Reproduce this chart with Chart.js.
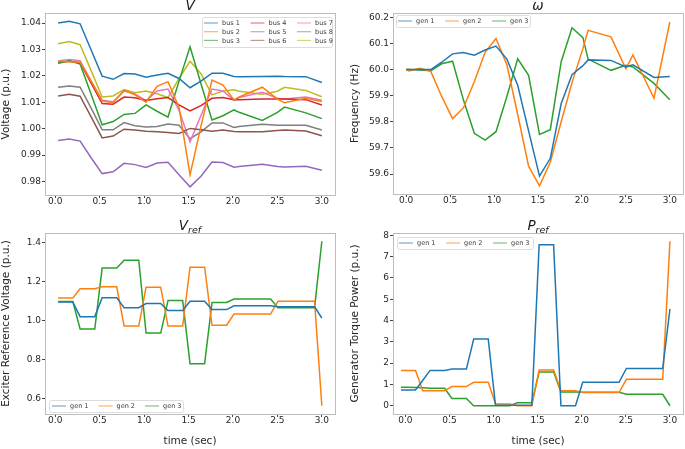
<!DOCTYPE html>
<html>
<head>
<meta charset="utf-8">
<script src="https://cdn.jsdelivr.net/npm/chart.js@4.4.1/dist/chart.umd.min.js"></script>
<style>
  body { margin: 0; background: #fff; }
  #wrap { position: relative; width: 685px; height: 449px; overflow: hidden; }
  canvas { position: absolute; }
</style>
</head>
<body>
<div id="wrap">
  <canvas id="cV"    style="left:0;top:0"       width="342" height="218"></canvas>
  <canvas id="cW"    style="left:342px;top:0"   width="343" height="218"></canvas>
  <canvas id="cVref" style="left:0;top:218px"   width="342" height="231"></canvas>
  <canvas id="cPref" style="left:342px;top:218px" width="343" height="231"></canvas>
</div>
<script>
// ---- data ----
const tTop = [0.033, 0.157, 0.280, 0.404, 0.528, 0.651, 0.775, 0.898, 1.022, 1.146, 1.269, 1.393,
  1.517, 1.640, 1.764, 1.887, 2.011, 2.07, 2.33, 2.50, 2.58, 2.82, 3.00];
const tOmega = [0.0, 0.033, 0.157, 0.280, 0.404, 0.528, 0.651, 0.775, 0.898, 1.022, 1.146, 1.269, 1.393,
  1.517, 1.640, 1.764, 1.887, 2.011, 2.07, 2.33, 2.50, 2.58, 2.82, 3.00];
const tBot = [0.033, 0.115, 0.198, 0.280, 0.363, 0.445, 0.528, 0.610, 0.692, 0.775, 0.857, 0.940,
  1.022, 1.104, 1.187, 1.269, 1.352, 1.434, 1.517, 1.599, 1.681, 1.764, 1.846, 1.929,
  2.011, 2.093, 2.176, 2.258, 2.341, 2.423, 2.506, 2.588, 2.670, 2.753, 2.835, 2.918, 3.000];
// the torque panel starts one sample earlier
const tPref = [-0.049, 0.033, 0.115, 0.198, 0.280, 0.363, 0.445, 0.528, 0.610, 0.692, 0.775, 0.857, 0.940,
  1.022, 1.104, 1.187, 1.269, 1.352, 1.434, 1.517, 1.599, 1.681, 1.764, 1.846, 1.929,
  2.011, 2.093, 2.176, 2.258, 2.341, 2.423, 2.506, 2.588, 2.670, 2.753, 2.835, 2.918, 3.000];

const busNames = ["bus 1", "bus 2", "bus 3", "bus 4", "bus 5", "bus 6", "bus 7", "bus 8", "bus 9"];
const genNames = ["gen 1", "gen 2", "gen 3"];

const vBus1 = [1.0400, 1.0407, 1.0397, 1.0298, 1.0199, 1.0187, 1.0209, 1.0207, 1.0195, 1.0203, 1.0210, 1.0190, 1.0155, 1.0180, 1.0210, 1.0210, 1.0198, 1.0197, 1.0198, 1.0199, 1.0198, 1.0197, 1.0175];
const vBus2 = [1.0255, 1.0253, 1.0252, 1.0180, 1.0105, 1.0098, 1.0145, 1.0128, 1.0100, 1.0160, 1.0178, 1.0080, 0.9825, 1.0010, 1.0184, 1.0165, 1.0109, 1.0120, 1.0157, 1.0112, 1.0098, 1.0115, 1.0103];
const vBus3 = [1.0248, 1.0257, 1.0245, 1.0130, 1.0015, 1.0027, 1.0054, 1.0058, 1.0090, 1.0066, 1.0044, 1.0180, 1.0310, 1.0170, 1.0033, 1.0049, 1.0071, 1.0062, 1.0031, 1.0062, 1.0082, 1.0060, 1.0038];
const vBus4 = [1.0250, 1.0255, 1.0250, 1.0172, 1.0095, 1.0093, 1.0120, 1.0117, 1.0107, 1.0113, 1.0118, 1.0090, 1.0067, 1.0087, 1.0115, 1.0118, 1.0110, 1.0110, 1.0112, 1.0112, 1.0112, 1.0110, 1.0090];
const vBus5 = [0.9955, 0.9961, 0.9953, 0.9890, 0.9830, 0.9837, 0.9869, 0.9864, 0.9853, 0.9870, 0.9873, 0.9826, 0.9780, 0.9820, 0.9874, 0.9872, 0.9854, 0.9857, 0.9865, 0.9857, 0.9855, 0.9858, 0.9843];
const vBus6 = [1.0124, 1.0130, 1.0123, 1.0045, 0.9965, 0.9972, 0.9998, 0.9995, 0.9990, 0.9988, 0.9986, 0.9982, 1.0001, 0.9996, 0.9990, 0.9995, 0.9989, 0.9988, 0.9988, 0.9993, 0.9995, 0.9991, 0.9973];
const vBus7 = [1.0256, 1.0262, 1.0257, 1.0180, 1.0108, 1.0102, 1.0143, 1.0132, 1.0106, 1.0143, 1.0150, 1.0070, 0.9950, 1.0050, 1.0150, 1.0143, 1.0107, 1.0118, 1.0138, 1.0115, 1.0112, 1.0120, 1.0108];
const vBus8 = [1.0157, 1.0162, 1.0157, 1.0078, 0.9996, 0.9996, 1.0023, 1.0011, 1.0006, 1.0008, 1.0018, 1.0013, 0.9962, 0.9988, 1.0022, 1.0022, 1.0005, 1.0008, 1.0017, 1.0013, 1.0013, 1.0013, 0.9995];
const vBus9 = [1.0322, 1.0330, 1.0318, 1.0220, 1.0120, 1.0124, 1.0148, 1.0136, 1.0143, 1.0132, 1.0118, 1.0190, 1.0255, 1.0208, 1.0128, 1.0143, 1.0147, 1.0142, 1.0130, 1.0142, 1.0157, 1.0145, 1.0121];

const wGen1 = [60.000, 60.000, 60.000, 60.000, 60.028, 60.060, 60.065, 60.055, 60.075, 60.090, 60.040, 59.940, 59.765, 59.592, 59.660, 59.870, 59.980, 60.015, 60.037, 60.035, 60.010, 60.018, 59.970, 59.973];
const wGen2 = [60.000, 59.995, 60.005, 59.993, 59.897, 59.812, 59.853, 59.953, 60.066, 60.119, 60.018, 59.828, 59.630, 59.555, 59.645, 59.800, 59.950, 60.080, 60.150, 60.125, 60.003, 60.056, 59.890, 60.182];
const wGen3 = [60.000, 60.000, 59.998, 59.995, 60.022, 60.032, 59.884, 59.756, 59.730, 59.762, 59.897, 60.041, 59.978, 59.752, 59.770, 60.030, 60.160, 60.122, 60.040, 59.997, 60.016, 60.010, 59.947, 59.884];

const vrefGen1 = [1.095, 1.095, 1.095, 1.020, 1.020, 1.020, 1.117, 1.117, 1.117, 1.066, 1.066, 1.066,
  1.087, 1.087, 1.087, 1.051, 1.051, 1.051, 1.098, 1.098, 1.098, 1.056, 1.056, 1.056,
  1.075, 1.075, 1.075, 1.075, 1.075, 1.075, 1.070, 1.070, 1.070, 1.070, 1.070, 1.070, 1.013];
const vrefGen2 = [1.115, 1.115, 1.115, 1.162, 1.162, 1.162, 1.172, 1.172, 1.172, 0.972, 0.972, 0.972,
  1.170, 1.170, 1.170, 0.972, 0.972, 0.972, 1.272, 1.272, 1.272, 0.976, 0.976, 0.976,
  1.033, 1.033, 1.033, 1.033, 1.033, 1.033, 1.098, 1.098, 1.098, 1.098, 1.098, 1.098, 0.565];
const vrefGen3 = [1.097, 1.097, 1.097, 0.957, 0.957, 0.957, 1.268, 1.268, 1.268, 1.308, 1.308, 1.308,
  0.936, 0.936, 0.936, 1.102, 1.102, 1.102, 0.780, 0.780, 0.780, 1.092, 1.092, 1.092,
  1.110, 1.110, 1.110, 1.110, 1.110, 1.110, 1.066, 1.066, 1.066, 1.066, 1.066, 1.066, 1.405];

const prefGen1 = [0.74, 0.74, 0.74, 1.20, 1.66, 1.66, 1.66, 1.72, 1.72, 1.72, 3.13, 3.13, 3.13,
  0.02, 0.02, 0.02, 0.02, 0.02, 0.02, 7.55, 7.55, 7.55, 0.00, 0.00, 0.00,
  1.10, 1.10, 1.10, 1.10, 1.10, 1.10, 1.75, 1.75, 1.75, 1.75, 1.75, 1.75, 4.54];
const prefGen2 = [1.65, 1.65, 1.65, 0.71, 0.71, 0.71, 0.71, 0.90, 0.90, 0.90, 1.10, 1.10, 1.10,
  0.08, 0.08, 0.08, 0.00, 0.00, 0.00, 1.68, 1.68, 1.68, 0.70, 0.70, 0.70,
  0.62, 0.62, 0.62, 0.62, 0.62, 0.62, 1.24, 1.24, 1.24, 1.24, 1.24, 1.24, 7.72];
const prefGen3 = [0.87, 0.87, 0.86, 0.84, 0.82, 0.82, 0.82, 0.34, 0.34, 0.34, 0.00, 0.00, 0.00,
  0.00, 0.00, 0.00, 0.14, 0.14, 0.14, 1.58, 1.58, 1.58, 0.65, 0.65, 0.65,
  0.63, 0.63, 0.63, 0.63, 0.63, 0.63, 0.54, 0.54, 0.54, 0.54, 0.54, 0.54, 0.00];

const tab10 = ["#1f77b4", "#ff7f0e", "#2ca02c", "#d62728", "#9467bd", "#8c564b", "#e377c2", "#7f7f7f", "#bcbd22"];

// ---- helpers ----
Chart.defaults.font.family = "'DejaVu Sans', sans-serif";
Chart.defaults.color = "#262626";

function series(names, t, values) {
  return names.map((name, i) => ({
    label: name,
    data: t.map((x, j) => ({ x, y: values[i][j] })),
    borderColor: tab10[i],
    backgroundColor: tab10[i],
    borderWidth: 1.5,
    pointRadius: 0,
    tension: 0,
    fill: false,
  }));
}

// axes frame on all four sides
const frame = {
  id: "frame",
  afterDraw(chart) {
    const { ctx, chartArea: a } = chart;
    ctx.save();
    ctx.strokeStyle = "#bdbdbd";
    ctx.lineWidth = 1;
    ctx.strokeRect(Math.round(a.left) + 0.5, Math.round(a.top) + 0.5,
      Math.round(a.right - a.left), Math.round(a.bottom - a.top));
    ctx.restore();
  }
};

// title like $V_{ref}$
const mathTitle = {
  id: "mathTitle",
  afterDraw(chart, _args, o) {
    const { ctx, chartArea: a } = chart;
    ctx.save();
    ctx.fillStyle = "#1a1a1a";
    ctx.textBaseline = "alphabetic";
    ctx.font = "oblique 13.5px 'DejaVu Sans'";
    const mw = ctx.measureText(o.main).width;
    let sw = 0;
    if (o.sub) { ctx.font = "oblique 9.5px 'DejaVu Sans'"; sw = ctx.measureText(o.sub).width; }
    const x0 = (a.left + a.right) / 2 - (mw + sw) / 2;
    ctx.font = "oblique 13.5px 'DejaVu Sans'";
    ctx.fillText(o.main, x0, o.y);
    if (o.sub) { ctx.font = "oblique 9.5px 'DejaVu Sans'"; ctx.fillText(o.sub, x0 + mw, o.y + 3); }
    ctx.restore();
  }
};

// matplotlib style boxed legend, filled column by column
const boxLegend = {
  id: "boxLegend",
  afterDraw(chart, _args, o) {
    const { ctx } = chart;
    ctx.save();
    ctx.beginPath();
    ctx.roundRect(o.x + 0.5, o.y + 0.5, o.w, o.h, 2);
    ctx.fillStyle = "rgba(255,255,255,0.85)";
    ctx.fill();
    ctx.strokeStyle = "#dcdcdc";
    ctx.lineWidth = 1;
    ctx.stroke();
    ctx.font = "6.5px 'DejaVu Sans'";
    ctx.textBaseline = "middle";
    chart.data.datasets.forEach((ds, i) => {
      const col = Math.floor(i / o.rows), row = i % o.rows;
      const lx = o.x + o.padX + col * o.colW;
      const ly = o.y + o.padY + row * o.rowH;
      ctx.globalAlpha = 0.6;
      ctx.strokeStyle = ds.borderColor;
      ctx.lineWidth = 1.2;
      ctx.beginPath();
      ctx.moveTo(lx, ly);
      ctx.lineTo(lx + 14, ly);
      ctx.stroke();
      ctx.globalAlpha = 1;
      ctx.fillStyle = "#3a3a3a";
      ctx.fillText(ds.label, lx + 18, ly + 0.5);
    });
    ctx.restore();
  }
};

function makeChart(id, cfg) {
  const tickFont = { size: 9 };
  const labelFont = { size: 10.5 };
  const tickGrid = { display: true, drawOnChartArea: false, drawTicks: true, tickLength: 3, color: "#444" };
  return new Chart(document.getElementById(id), {
    type: "line",
    data: { datasets: cfg.datasets },
    options: {
      responsive: false,
      animation: false,
      layout: { padding: cfg.padding },
      scales: {
        x: {
          type: "linear",
          min: cfg.xMin, max: cfg.xMax,
          grid: tickGrid,
          border: { display: false },
          ticks: { stepSize: 0.5, includeBounds: false, font: tickFont, padding: -2, maxRotation: 0,
            callback: v => v.toFixed(1) },
          title: cfg.xTitle
            ? { display: true, text: cfg.xTitle, font: labelFont, padding: { top: 0, bottom: 0 } }
            : { display: false },
          afterFit: s => { s.height = cfg.xHeight; },
        },
        y: {
          min: cfg.yMin, max: cfg.yMax,
          grid: tickGrid,
          border: { display: false },
          ticks: { stepSize: cfg.yStep, includeBounds: false, font: tickFont, padding: 1,
            callback: v => v.toFixed(cfg.yDigits) },
          title: { display: true, text: cfg.yTitle, font: labelFont, padding: { top: 0, bottom: 0 } },
          afterFit: s => { s.width = cfg.yWidth; },
        }
      },
      plugins: {
        legend: { display: false },
        tooltip: { enabled: false },
        mathTitle: cfg.title,
        boxLegend: cfg.legend,
      }
    },
    plugins: [frame, mathTitle, boxLegend]
  });
}

makeChart("cV", {
  datasets: series(busNames, tTop, [vBus1, vBus2, vBus3, vBus4, vBus5, vBus6, vBus7, vBus8, vBus9]),
  padding: { left: 0, top: 13, right: 7, bottom: 0 },
  xMin: -0.115, xMax: 3.148, xHeight: 23,
  yMin: 0.9749, yMax: 1.0438, yStep: 0.01, yDigits: 2, yWidth: 45,
  yTitle: "Voltage (p.u.)",
  title: { main: "V", y: 10 },
  legend: { x: 202, y: 17, w: 130, h: 30, rows: 3, colW: 46.5, rowH: 8.7, padX: 2, padY: 6 },
});

makeChart("cW", {
  datasets: series(genNames, tOmega, [wGen1, wGen2, wGen3]),
  padding: { left: 7, top: 13, right: 2, bottom: 0 },
  xMin: -0.15, xMax: 3.15, xHeight: 24,
  yMin: 59.5235, yMax: 60.2165, yStep: 0.1, yDigits: 1, yWidth: 44,
  yTitle: "Frequency (Hz)",
  title: { main: "\u03c9", y: 9.5 },
  legend: { x: 54, y: 15, w: 134, h: 12, rows: 1, colW: 47, rowH: 0, padX: 2, padY: 6 },
});

makeChart("cVref", {
  datasets: series(genNames, tBot, [vrefGen1, vrefGen2, vrefGen3]),
  padding: { left: 0, top: 15, right: 7, bottom: 1 },
  xMin: -0.115, xMax: 3.148, xHeight: 34, xTitle: "time (sec)",
  yMin: 0.523, yMax: 1.447, yStep: 0.2, yDigits: 1, yWidth: 45,
  yTitle: "Exciter Reference Voltage (p.u.)",
  title: { main: "V", sub: "ref", y: 12 },
  legend: { x: 49, y: 182, w: 134, h: 12, rows: 1, colW: 46.5, rowH: 0, padX: 3, padY: 6 },
});

makeChart("cPref", {
  datasets: series(genNames, tPref, [prefGen1, prefGen2, prefGen3]),
  padding: { left: 7, top: 15, right: 2, bottom: 1 },
  xMin: -0.14, xMax: 3.148, xHeight: 34, xTitle: "time (sec)",
  yMin: -0.386, yMax: 8.106, yStep: 1, yDigits: 0, yWidth: 44,
  yTitle: "Generator Torque Power (p.u.)",
  title: { main: "P", sub: "ref", y: 12 },
  legend: { x: 55, y: 19, w: 136, h: 12, rows: 1, colW: 47, rowH: 0, padX: 2, padY: 6 },
});
</script>
</body>
</html>
